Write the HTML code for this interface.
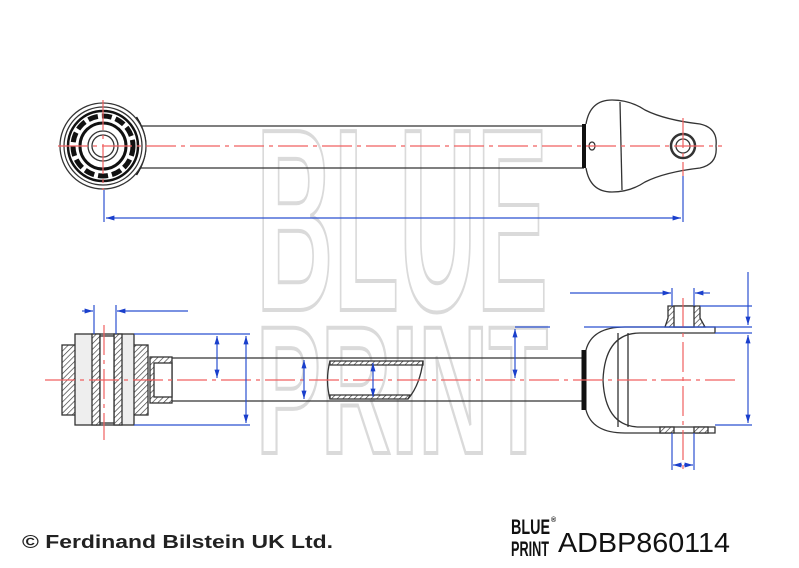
<!DOCTYPE html>
<html><head><meta charset="utf-8"><style>
html,body{margin:0;padding:0;background:#fff;width:799px;height:568px;overflow:hidden}
svg{display:block}
</style></head><body>
<svg width="799" height="568" viewBox="0 0 799 568" xmlns="http://www.w3.org/2000/svg">
<defs>
<pattern id="h" width="4" height="4" patternUnits="userSpaceOnUse" patternTransform="rotate(45)"><rect width="4" height="4" fill="#fff"/><line x1="0" y1="0" x2="0" y2="4" stroke="#333" stroke-width="1.3"/></pattern>
<marker id="a" viewBox="0 0 10 10" refX="10" refY="5" markerWidth="7" markerHeight="7" orient="auto-start-reverse"><path d="M0,2 L10,5 L0,8z" fill="#1a3fcc"/></marker>
</defs>
<!-- watermark -->
<g fill="none" stroke="#dadada" stroke-width="4" font-family="Liberation Sans, sans-serif" font-weight="bold">
<text x="256" y="310" font-size="260" textLength="292" lengthAdjust="spacingAndGlyphs">BLUE</text>
<text x="256" y="453" font-size="182" textLength="292" lengthAdjust="spacingAndGlyphs">PRINT</text>
</g>
<!-- TOP VIEW -->
<g stroke="#333" fill="none" stroke-width="1.3">
<line x1="140" y1="126" x2="584" y2="126"/><line x1="140" y1="168" x2="584" y2="168"/>
<path d="M135,118 Q153,146 135,174" stroke-width="5" stroke="#111"/>
<circle cx="103" cy="146" r="43" fill="#fff"/>
<circle cx="103" cy="146" r="39"/>
<circle cx="103" cy="146" r="35" stroke-width="2.5" stroke="#111"/>
<circle cx="103" cy="146" r="30" stroke-width="5" stroke="#111" stroke-dasharray="10 4"/>
<circle cx="103" cy="146" r="23" stroke-width="3" stroke="#111"/>
<circle cx="103" cy="146" r="15"/>
<circle cx="103" cy="146" r="11"/>
<path d="M584,124 L584,168" stroke-width="4" stroke="#111"/>
<path d="M586,124 Q590,100 612,100 Q630,100 645,110 Q665,120 700,124 Q718,128 716,146 Q718,164 700,168 Q665,172 645,182 Q630,192 612,192 Q590,192 586,168"/>
<line x1="620" y1="102" x2="622" y2="190"/>
<circle cx="683" cy="146" r="12" stroke-width="2.5"/>
<circle cx="683" cy="146" r="7"/>
<ellipse cx="592" cy="146" rx="3" ry="4"/>
</g>
<g stroke="#f06060" stroke-width="1.2" stroke-dasharray="30 5 4 5">
<line x1="58" y1="146" x2="722" y2="146"/>
<line x1="103" y1="100" x2="103" y2="190"/>
<line x1="683" y1="118" x2="683" y2="176"/>
</g>
<g stroke="#2a50d0" stroke-width="1.2" fill="none">
<line x1="104" y1="190" x2="104" y2="222"/><line x1="683" y1="176" x2="683" y2="222"/>
<line x1="106" y1="218" x2="681" y2="218" marker-start="url(#a)" marker-end="url(#a)"/>
</g>
<!-- BOTTOM VIEW -->
<g stroke="#333" stroke-width="1.3">
<line x1="170" y1="358" x2="585" y2="358"/><line x1="170" y1="401" x2="585" y2="401"/>
<rect x="62" y="345" width="86" height="70" fill="url(#h)"/>
<rect x="75" y="334" width="59" height="91" fill="#eee"/>
<rect x="92" y="334" width="8" height="91" fill="url(#h)"/>
<rect x="114" y="334" width="8" height="91" fill="url(#h)"/>
<rect x="100" y="336" width="14" height="87" fill="#fff"/>
<rect x="150" y="357" width="22" height="46" fill="url(#h)"/>
<rect x="154" y="363" width="18" height="34" fill="#fff"/>
<path d="M330,361 L423,361 L423,365 L330,365z M330,395 L410,395 L408,399 L330,399z" fill="url(#h)"/>
<path d="M330,361 Q325,380 330,399 M423,361 Q420,385 408,399" fill="none"/>
<path d="M584,350 L584,410" stroke-width="5" stroke="#111"/>
<path d="M586,350 Q592,327 625,327 L715,327 L715,333 L640,333 Q605,333 603,380 Q605,427 640,427 L715,427 L715,433 L625,433 Q592,433 586,410" fill="none"/>
<line x1="618" y1="333" x2="618" y2="427"/><line x1="628" y1="333" x2="628" y2="427"/>
<path d="M665,327 L668,318 L668,306 L700,306 L700,318 L705,327z" fill="url(#h)"/>
<rect x="674" y="306" width="20" height="21" fill="#fff"/>
<rect x="660" y="427" width="14" height="6" fill="url(#h)"/><rect x="694" y="427" width="14" height="6" fill="url(#h)"/>
</g>
<g stroke="#f06060" stroke-width="1.2" stroke-dasharray="30 5 4 5">
<line x1="45" y1="380" x2="740" y2="380"/>
<line x1="104" y1="325" x2="104" y2="440"/>
<line x1="683" y1="298" x2="683" y2="470"/>
</g>
<g stroke="#2a50d0" stroke-width="1.2" fill="none">
<line x1="94" y1="305" x2="94" y2="334"/><line x1="116" y1="305" x2="116" y2="334"/>
<line x1="82" y1="311" x2="93" y2="311" marker-end="url(#a)"/>
<line x1="188" y1="311" x2="117" y2="311" marker-end="url(#a)"/>
<line x1="134" y1="334" x2="250" y2="334"/><line x1="134" y1="425" x2="250" y2="425"/>
<line x1="217" y1="336" x2="217" y2="378" marker-start="url(#a)" marker-end="url(#a)"/>
<line x1="246" y1="336" x2="246" y2="423" marker-start="url(#a)" marker-end="url(#a)"/>
<line x1="304" y1="360" x2="304" y2="399" marker-start="url(#a)" marker-end="url(#a)"/>
<line x1="373" y1="363" x2="373" y2="397" marker-start="url(#a)" marker-end="url(#a)"/>
<line x1="515" y1="327" x2="550" y2="327"/>
<line x1="515" y1="329" x2="515" y2="378" marker-start="url(#a)" marker-end="url(#a)"/>
<line x1="570" y1="293" x2="671" y2="293" marker-end="url(#a)"/>
<line x1="710" y1="293" x2="695" y2="293" marker-end="url(#a)"/>
<line x1="672" y1="288" x2="672" y2="306"/><line x1="694" y1="288" x2="694" y2="306"/>
<line x1="700" y1="306" x2="752" y2="306"/>
<line x1="584" y1="327" x2="752" y2="327"/><line x1="715" y1="333" x2="752" y2="333"/>
<line x1="715" y1="425" x2="752" y2="425"/>
<line x1="748" y1="272" x2="748" y2="325" marker-end="url(#a)"/>
<line x1="748" y1="335" x2="748" y2="423" marker-start="url(#a)" marker-end="url(#a)"/>
<line x1="672" y1="433" x2="672" y2="470"/><line x1="694" y1="433" x2="694" y2="470"/>
<line x1="673" y1="465" x2="682" y2="465" marker-start="url(#a)"/>
<line x1="684" y1="465" x2="693" y2="465" marker-end="url(#a)"/>
</g>
<!-- footer -->
<text x="22" y="548" font-family="Liberation Sans, sans-serif" font-weight="bold" font-size="18" fill="#222" textLength="311" lengthAdjust="spacingAndGlyphs">© Ferdinand Bilstein UK Ltd.</text>
<g font-family="Liberation Sans, sans-serif" font-weight="bold" fill="#111">
<text x="511" y="534" font-size="21" textLength="39" lengthAdjust="spacingAndGlyphs">BLUE</text>
<text x="511" y="556" font-size="21" textLength="38" lengthAdjust="spacingAndGlyphs">PRINT</text>
<text x="551" y="522" font-size="7">®</text>
</g>
<text x="558" y="552" font-family="Liberation Sans, sans-serif" font-size="28" fill="#111" textLength="172" lengthAdjust="spacingAndGlyphs">ADBP860114</text>
</svg>
</body></html>
